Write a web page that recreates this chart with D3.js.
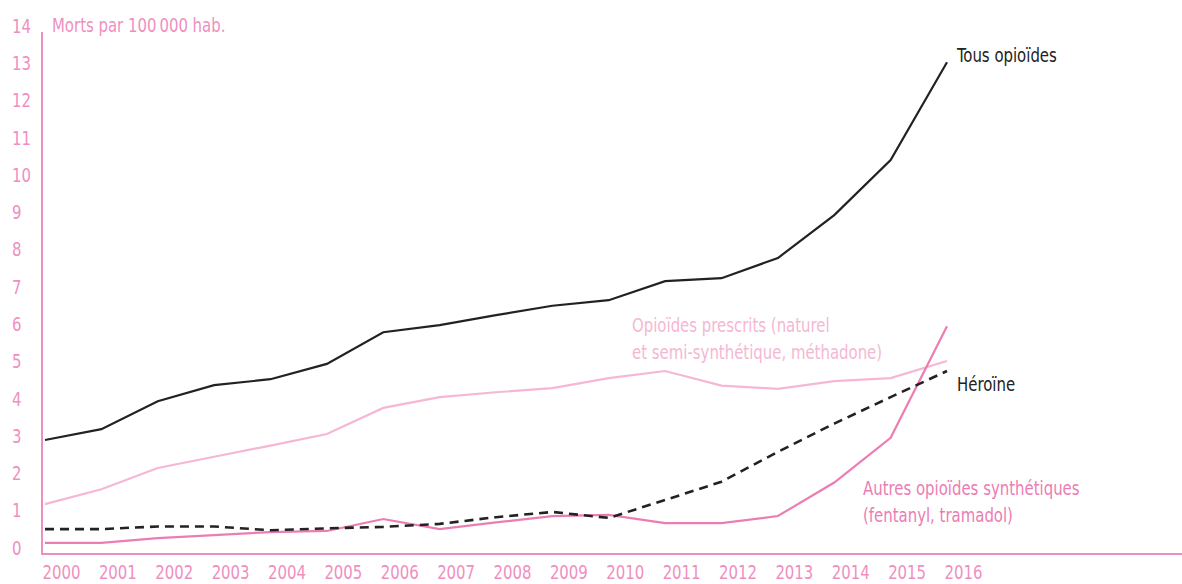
<!DOCTYPE html>
<html>
<head>
<meta charset="utf-8">
<script src="https://cdn.jsdelivr.net/npm/d3@7"></script>
<style>
  html, body { margin: 0; padding: 0; background: #fff; }
  svg text { font-family: "Liberation Sans Narrow", "DejaVu Sans Condensed", "Roboto Condensed", sans-serif; }
</style>
</head>
<body>
<div id="chart"></div>
<script>
// data (deaths per 100 000 inhabitants)
var years = [2000, 2001, 2002, 2003, 2004, 2005, 2006, 2007, 2008, 2009, 2010, 2011, 2012, 2013, 2014, 2015, 2016];
var tousOpioides = [2.87, 3.16, 3.91, 4.34, 4.5, 4.91, 5.76, 5.95, 6.22, 6.47, 6.62, 7.13, 7.21, 7.75, 8.9, 10.38, 13.0];
var prescrits = [1.15, 1.55, 2.12, 2.42, 2.72, 3.03, 3.73, 4.02, 4.15, 4.26, 4.53, 4.72, 4.33, 4.24, 4.45, 4.53, 4.99];
var heroine = [0.48, 0.48, 0.55, 0.55, 0.45, 0.5, 0.54, 0.62, 0.8, 0.94, 0.78, 1.26, 1.75, 2.55, 3.31, 4.02, 4.72];
var autresSynth = [0.11, 0.11, 0.24, 0.32, 0.4, 0.43, 0.75, 0.48, 0.66, 0.83, 0.86, 0.64, 0.64, 0.83, 1.73, 2.93, 5.92];
var yTicks = d3.range(0, 15);

var svgWidth = 1182;
var svgHeight = 584;

var pink = "#ef8fbf";
var darkPink = "#ec7db3";
var lightPink = "#f5b7d4";
var ink = "#222222";

// the original uses a condensed face; squeeze the fallback font horizontally
var narrow = 0.83;
function squeeze(sel) {
    sel.each(function() {
        var el = d3.select(this);
        var x0 = +el.attr("x") || 0;
        el.attr("transform", `translate(${x0 * (1 - narrow)},0) scale(${narrow},1)`);
    });
}

var svg = d3.select("#chart")
    .append("svg")
    .attr("width", svgWidth)
    .attr("height", svgHeight);

var x = d3.scalePoint()
    .domain(years)
    .range([45, 947]);

var y = d3.scaleLinear()
    .domain([0, 14])
    .range([547, 25]);

var axisX = 42;
var axisY = 554;

// y axis: labels left aligned at the page edge, line starts a bit below 14
var yAxis = svg.append("g")
    .attr("transform", `translate(${axisX},0)`)
    .call(d3.axisLeft(y).tickValues(yTicks).tickSize(0).tickFormat(d3.format("d")));
yAxis.select(".domain").remove();
yAxis.selectAll("text")
    .attr("x", -30)
    .attr("dy", "0.36em")
    .attr("text-anchor", "start")
    .style("font-size", "20px")
    .style("fill", pink)
    .call(squeeze);

svg.append("line")
    .attr("x1", axisX).attr("x2", axisX)
    .attr("y1", 32).attr("y2", axisY)
    .attr("stroke", pink)
    .attr("stroke-width", 2);

// x axis
var xAxis = svg.append("g")
    .attr("transform", `translate(0,${axisY})`)
    .call(d3.axisBottom(x).tickSize(0).tickFormat(d3.format("d")));
xAxis.select(".domain").remove();
xAxis.selectAll("text")
    .attr("y", 18)
    .attr("dy", "0.36em")
    .attr("x", -3)
    .attr("text-anchor", "start")
    .style("font-size", "20px")
    .style("fill", pink)
    .call(squeeze);

svg.append("line")
    .attr("x1", axisX - 1).attr("x2", svgWidth)
    .attr("y1", axisY).attr("y2", axisY)
    .attr("stroke", pink)
    .attr("stroke-width", 2);

svg.append("text")
    .attr("x", 52)
    .attr("y", y(14))
    .attr("dy", "0.36em")
    .style("font-size", "20px")
    .style("fill", pink)
    .text("Morts par 100\u202f000 hab.")
    .call(squeeze);

// lines
var line = d3.line()
    .x((d, i) => x(years[i]))
    .y(d => y(d));

svg.append("path")
    .datum(prescrits)
    .attr("d", line)
    .attr("fill", "none")
    .attr("stroke", lightPink)
    .attr("stroke-width", 2.2);

svg.append("path")
    .datum(autresSynth)
    .attr("d", line)
    .attr("fill", "none")
    .attr("stroke", darkPink)
    .attr("stroke-width", 2.2);

svg.append("path")
    .datum(heroine)
    .attr("d", line)
    .attr("fill", "none")
    .attr("stroke", ink)
    .attr("stroke-width", 2.6)
    .attr("stroke-dasharray", "9,6");

svg.append("path")
    .datum(tousOpioides)
    .attr("d", line)
    .attr("fill", "none")
    .attr("stroke", ink)
    .attr("stroke-width", 2.2);

// series labels
function label(lines, xPos, yPos, color) {
    var t = svg.append("text")
        .attr("x", xPos)
        .attr("y", yPos)
        .style("font-size", "20px")
        .style("fill", color);
    lines.forEach(function(s, i) {
        t.append("tspan")
            .attr("x", xPos)
            .attr("dy", i === 0 ? "0.36em" : "27px")
            .text(s);
    });
    t.call(squeeze);
}

label(["Tous opioïdes"], 957, 55, ink);
label(["Opioïdes prescrits (naturel", "et semi-synthétique, méthadone)"], 632, 325, lightPink);
label(["Héroïne"], 957, 384, ink);
label(["Autres opioïdes synthétiques", "(fentanyl, tramadol)"], 863, 488, darkPink);
</script>
</body>
</html>
